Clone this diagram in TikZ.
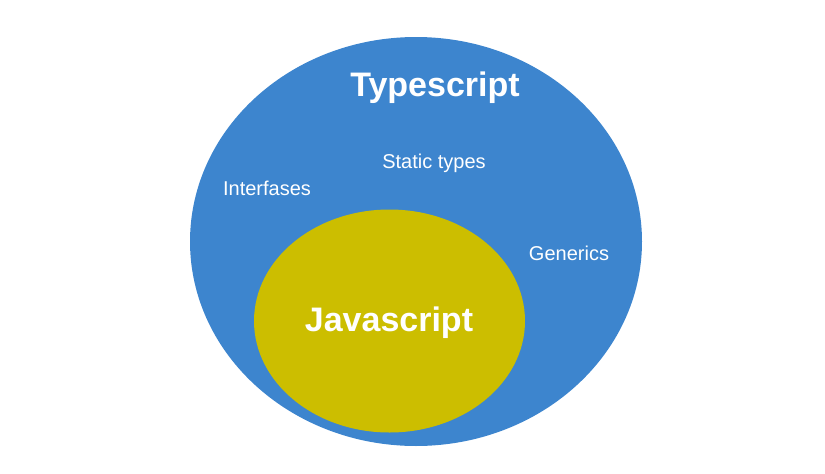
\documentclass[tikz,border=0pt]{standalone}
\usepackage{fontspec}
\setmainfont{Liberation Sans}
\definecolor{tsblue}{HTML}{3D85CE}
\definecolor{jsyellow}{HTML}{CCBE00}
\tikzset{
  label/.style={text=white, inner sep=0pt, font=\fontsize{20}{22}\selectfont},
  title/.style={text=white, inner sep=0pt, font=\bfseries\fontsize{34}{38}\selectfont},
}
\begin{document}
\begin{tikzpicture}[x=1pt,y=-1pt]
\useasboundingbox (0,0) rectangle (825,474);
\fill[tsblue] (416,241.5) ellipse [x radius=226, y radius=204.5];
\fill[jsyellow] (389.5,321) ellipse [x radius=135.5, y radius=111.5];
\node[title] (ts) at (435,88) {Typescript};
\node[title] (js) at (389,323) {Javascript};
\node[label] (st) at (434,163.5) {Static types};
\node[label] (if) at (267,188.5) {Interfases};
\node[label] (ge) at (569,253.5) {Generics};
\end{tikzpicture}
\end{document}
